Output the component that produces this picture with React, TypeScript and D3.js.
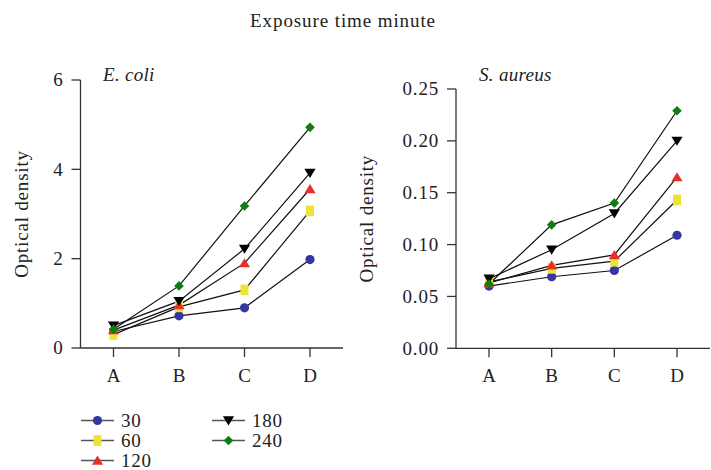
import React from "react";
import * as d3 from "d3";

const categories = ["A", "B", "C", "D"];
const seriesNames = ["30", "60", "120", "180", "240"];
const ecoli30 = [0.37, 0.72, 0.9, 1.98];
const ecoli60 = [0.3, 0.92, 1.3, 3.07];
const ecoli120 = [0.4, 0.96, 1.9, 3.56];
const ecoli180 = [0.5, 1.05, 2.22, 3.92];
const ecoli240 = [0.42, 1.39, 3.18, 4.94];
const saureus30 = [0.06, 0.069, 0.075, 0.109];
const saureus60 = [0.064, 0.077, 0.084, 0.143];
const saureus120 = [0.063, 0.08, 0.09, 0.165];
const saureus180 = [0.067, 0.095, 0.13, 0.2];
const saureus240 = [0.062, 0.119, 0.14, 0.229];
const ecoliTicks = [0, 2, 4, 6];
const saureusTicks = [0, 0.05, 0.1, 0.15, 0.2, 0.25];

const colors = ["#3636a0", "#ece333", "#e5312a", "#000000", "#0f7d12"];

const FONT = "'Liberation Serif', 'Times New Roman', serif";
const FS = 19;
const LS = 0.8;

function markerPath(i: number): string {
  switch (i) {
    case 0: {
      const p = d3.path();
      p.arc(0, 0, 4.6, 0, Math.PI * 2);
      return p.toString();
    }
    case 1:
      return "M-4,-5.3L4,-5.3L4,5.3L-4,5.3Z";
    case 2:
      return "M0,-5L5.6,4.2L-5.6,4.2Z";
    case 3:
      return "M0,5L5.6,-4.2L-5.6,-4.2Z";
    default:
      return "M0,-4.8L4.8,0L0,4.8L-4.8,0Z";
  }
}

function Marker({ i, x, y }: { i: number; x: number; y: number }) {
  return <path d={markerPath(i)} fill={colors[i]} transform={`translate(${x},${y})`} />;
}

function Panel({
  x0, x1, yTop, yBot, domainMax, ticks, fmt, data, title, titleX, labelX,
}: {
  x0: number; x1: number; yTop: number; yBot: number; domainMax: number;
  ticks: number[]; fmt: (v: number) => string; data: number[][]; title: string; titleX: number; labelX: number;
}) {
  const y = d3.scaleLinear().domain([0, domainMax]).range([yBot, yTop]);
  const x = d3.scalePoint().domain(categories).range([x0 + 33, x1 - 33]);
  const line = d3.line<number>().x((_, j) => x(categories[j])!).y((v) => y(v));
  return (
    <g>
      <line x1={x0} x2={x0} y1={yTop} y2={yBot} stroke="#333" strokeWidth={1.3} />
      <line x1={x0} x2={x1} y1={yBot} y2={yBot} stroke="#333" strokeWidth={1.3} />
      {ticks.map((t) => (
        <g key={t}>
          <line x1={x0 - 9} x2={x0} y1={y(t)} y2={y(t)} stroke="#333" strokeWidth={1.3} />
          <text x={x0 - 17} y={y(t)} dy="0.34em" textAnchor="end" fontSize={FS} letterSpacing={LS} fontFamily={FONT} fill="#222">
            {fmt(t)}
          </text>
        </g>
      ))}
      {categories.map((c) => (
        <g key={c}>
          <line x1={x(c)} x2={x(c)} y1={yBot} y2={yBot + 9} stroke="#333" strokeWidth={1.3} />
          <text x={x(c)} y={382} textAnchor="middle" fontSize={FS} fontFamily={FONT} fill="#222">
            {c}
          </text>
        </g>
      ))}
      <text x={titleX} y={81} fontSize={FS} fontStyle="italic" letterSpacing={0.3} fontFamily={FONT} fill="#222">
        {title}
      </text>
      <text
        transform={`translate(${labelX},${(yTop + yBot) / 2}) rotate(-90)`}
        textAnchor="middle"
        fontSize={FS}
        letterSpacing={0.8}
        fontFamily={FONT}
        fill="#222"
      >
        Optical density
      </text>
      {data.map((s, i) => (
        <path key={"l" + i} d={line(s) || ""} fill="none" stroke="#111" strokeWidth={1.2} />
      ))}
      {data.map((s, i) =>
        s.map((v, j) => <Marker key={i + "-" + j} i={i} x={x(categories[j])!} y={y(v)} />)
      )}
    </g>
  );
}

export default function App() {
  const ecoli = [ecoli30, ecoli60, ecoli120, ecoli180, ecoli240];
  const saureus = [saureus30, saureus60, saureus120, saureus180, saureus240];
  const legendPos = [
    [81, 420.5], [81, 440.5], [81, 460.5], [212, 420.5], [212, 440.5],
  ];
  return (
    <svg width={711} height={470} style={{ position: "absolute", left: 0, top: 0, background: "#fff" }}>
      <rect width={711} height={470} fill="#fff" />
      <text x={343} y={27} textAnchor="middle" fontSize={FS} letterSpacing={0.9} fontFamily={FONT} fill="#222">
        Exposure time minute
      </text>
      <Panel
        x0={80.5} x1={343} yTop={80} yBot={348} domainMax={6} ticks={ecoliTicks}
        fmt={(v) => String(v)} data={ecoli} title="E. coli" titleX={103} labelX={28}
      />
      <Panel
        x0={456} x1={710} yTop={89} yBot={348.3} domainMax={0.25} ticks={saureusTicks}
        fmt={(v) => v.toFixed(2)} data={saureus} title="S. aureus" titleX={479} labelX={373}
      />
      {seriesNames.map((n, i) => {
        const [lx, ly] = legendPos[i];
        return (
          <g key={n}>
            <line x1={lx} x2={lx + 33} y1={ly} y2={ly} stroke="#555" strokeWidth={1.5} />
            <Marker i={i} x={lx + 16.5} y={ly} />
            <text x={lx + 40} y={ly} dy="0.34em" fontSize={FS} letterSpacing={LS} fontFamily={FONT} fill="#222">
              {n}
            </text>
          </g>
        );
      })}
    </svg>
  );
}
